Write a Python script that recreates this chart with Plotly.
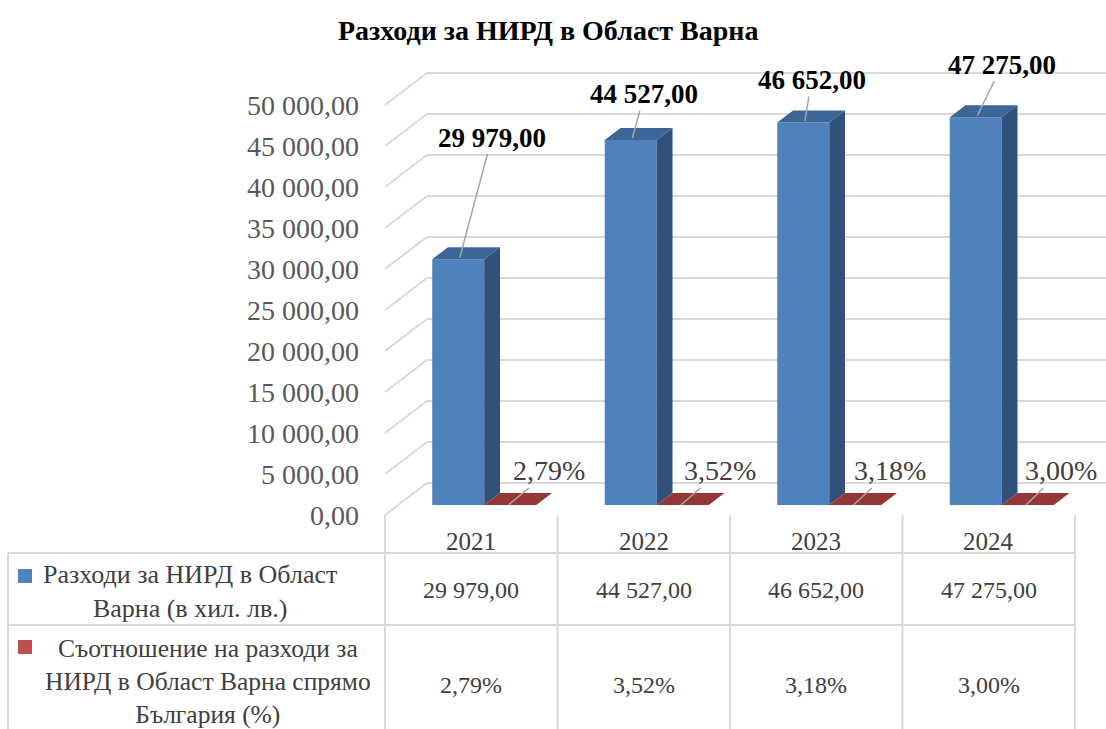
import plotly.graph_objects as go

# ---- data ----
years = ["2021", "2022", "2023", "2024"]
spending = [29979.00, 44527.00, 46652.00, 47275.00]   # хил. лв.
share_pct = [2.79, 3.52, 3.18, 3.00]                   # % от България
y_ticks = [0, 5000, 10000, 15000, 20000, 25000, 30000, 35000, 40000, 45000, 50000]
title_text = "Разходи за НИРД в Област Варна"
series_names = [
    "Разходи за НИРД в Област<br>Варна (в хил. лв.)",
    "Съотношение на разходи за<br>НИРД в Област Варна спрямо<br>България (%)",
]

# ---- styling / geometry ----
W, H = 1106, 729
FONT = "Liberation Serif"
BLUE, BLUE_SIDE, BLUE_TOP = "#4F81BD", "#30517A", "#3C6696"
RED, RED_TOP = "#C0504D", "#953735"
GRID = "#D9D9D9"
TXT = "#404040"

X0_PX, X_SCALE = 471.25, 172.5      # pixel of first category centre, px per category
Y0_PX, Y_SCALE = 505, 0.0082        # pixel of value 0 on the bar plane, px per unit

DX, DY = 42 / X_SCALE, 32 / Y_SCALE  # full depth of the 3D box in data units
FRONT = 10 / 32                      # depth of bar front plane
BAR_DEPTH = 12 / 32
BAR_W = 52 / X_SCALE
BLUE_OFF = -39 / X_SCALE
RED_OFF = BLUE_OFF + BAR_W

x_range = [-X0_PX / X_SCALE, (W - X0_PX) / X_SCALE]
y_range = [-(H - Y0_PX) / Y_SCALE, Y0_PX / Y_SCALE]


def xd(p):
    return (p - X0_PX) / X_SCALE


def py(p):
    return 1 - p / H


def fmt_num(v):
    return f"{v:,.2f}".replace(",", " ").replace(".", ",")


def fmt_pct(v):
    return f"{v:.2f}".replace(".", ",") + "%"


xs = list(range(len(years)))
fig = go.Figure()
shapes = []

# wall gridlines (side wall + back wall), kept below the bars
for t in y_ticks:
    back_y = t + (1 - FRONT) * DY
    shapes.append(dict(type="line", xref="x", yref="y", layer="below",
                       x0=-0.5, y0=t - FRONT * DY, x1=-0.5 + DX, y1=back_y,
                       line=dict(color=GRID, width=2)))
    shapes.append(dict(type="line", xref="x", yref="y", layer="below",
                       x0=-0.5 + DX, y0=back_y, x1=x_range[1], y1=back_y,
                       line=dict(color=GRID, width=2)))


def prism(values, off, front_col, side_col, top_col, name):
    bdx, bdy = BAR_DEPTH * DX, BAR_DEPTH * DY
    fig.add_trace(go.Bar(x=xs, y=values, width=BAR_W, offset=off, marker_color=front_col,
                         marker_line_width=0, name=name, showlegend=False))
    sx, sy, tx, ty = [], [], [], []
    for i, v in zip(xs, values):
        x0, x1 = i + off, i + off + BAR_W
        sx += [x1, x1, x1 + bdx, x1 + bdx, x1, None]
        sy += [0, v, v + bdy, bdy, 0, None]
        tx += [x0, x1, x1 + bdx, x0 + bdx, x0, None]
        ty += [v, v, v + bdy, v + bdy, v, None]
    fig.add_trace(go.Scatter(x=sx, y=sy, fill="toself", fillcolor=side_col, mode="none",
                             hoverinfo="skip", showlegend=False))
    fig.add_trace(go.Scatter(x=tx, y=ty, fill="toself", fillcolor=top_col, mode="none",
                             hoverinfo="skip", showlegend=False))


prism(spending, BLUE_OFF, BLUE, BLUE_SIDE, BLUE_TOP, "spending")
prism(share_pct, RED_OFF, RED, RED_TOP, RED_TOP, "share")

annotations = []

# title
annotations.append(dict(text="<b>" + title_text + "</b>", xref="paper", yref="paper",
                        x=548 / W, y=py(30), xanchor="center", yanchor="middle",
                        showarrow=False, font=dict(family=FONT, size=28, color="black")))

# y tick labels on the front of the side wall
for t in y_ticks:
    annotations.append(dict(text=fmt_num(t), x=-0.5, y=t - FRONT * DY, xanchor="right",
                            yanchor="middle", xshift=-24, showarrow=False,
                            font=dict(family=FONT, size=28, color="#595959")))

# value labels with leader lines
val_ax = [32, 12, 7, 25]
val_ay = [-120, -44, -41, -51]
for i, v, ax, ay in zip(xs, spending, val_ax, val_ay):
    annotations.append(dict(text="<b>" + fmt_num(v) + "</b>", x=i + BLUE_OFF + 0.16, y=v + 200,
                            ax=ax, ay=ay, showarrow=True, arrowhead=0, arrowwidth=1.5,
                            arrowcolor="#A6A6A6",
                            font=dict(family=FONT, size=27, color="black")))

pct_ax = [41, 39, 37, 35]
for i, v, ax in zip(xs, share_pct, pct_ax):
    annotations.append(dict(text=fmt_pct(v), x=i + RED_OFF + 0.14, y=v,
                            ax=ax, ay=-34, showarrow=True, arrowhead=0, arrowwidth=1.5,
                            arrowcolor="#A6A6A6",
                            font=dict(family=FONT, size=28, color=TXT)))

# data table
for b in [-0.5, 0.5, 1.5, 2.5, 3.5]:
    shapes.append(dict(type="line", xref="x", yref="paper", x0=b, x1=b, y0=py(515), y1=py(H),
                       line=dict(color=GRID, width=2)))
for row_y in [553, 625]:
    shapes.append(dict(type="line", xref="x", yref="paper", x0=xd(8), x1=3.5,
                       y0=py(row_y), y1=py(row_y), line=dict(color=GRID, width=2)))
shapes.append(dict(type="line", xref="x", yref="paper", x0=xd(8), x1=xd(8),
                   y0=py(553), y1=py(H), line=dict(color=GRID, width=2)))

for i, yr in zip(xs, years):
    annotations.append(dict(text=yr, x=i, yref="paper", y=py(541), xanchor="center",
                            yanchor="middle", showarrow=False,
                            font=dict(family=FONT, size=25, color=TXT)))
row_centres = [590, 685]
for i, v, p in zip(xs, spending, share_pct):
    annotations.append(dict(text=fmt_num(v), x=i, yref="paper", y=py(row_centres[0]),
                            xanchor="center", yanchor="middle", showarrow=False,
                            font=dict(family=FONT, size=24, color=TXT)))
    annotations.append(dict(text=fmt_pct(p), x=i, yref="paper", y=py(row_centres[1]),
                            xanchor="center", yanchor="middle", showarrow=False,
                            font=dict(family=FONT, size=24, color=TXT)))

# row headers with legend keys
name_x = [190, 208]
name_y = [591, 681]
name_size = [26, 25.5]
key_y = [576, 647]
for name, nx, ny, ns, ky, col in zip(series_names, name_x, name_y, name_size, key_y, [BLUE, RED]):
    annotations.append(dict(text=name, xref="paper", yref="paper", x=nx / W, y=py(ny),
                            xanchor="center", yanchor="middle", showarrow=False,
                            align="center", font=dict(family=FONT, size=ns, color=TXT)))
    shapes.append(dict(type="rect", xref="x", yref="paper", x0=xd(18), x1=xd(32),
                       y0=py(ky + 7), y1=py(ky - 7), fillcolor=col, line=dict(width=0)))

fig.update_layout(
    width=W, height=H,
    margin=dict(l=0, r=0, t=0, b=0),
    plot_bgcolor="white", paper_bgcolor="white",
    barmode="overlay",
    showlegend=False,
    xaxis=dict(range=x_range, visible=False, fixedrange=True),
    yaxis=dict(range=y_range, visible=False, fixedrange=True),
    annotations=annotations,
    shapes=shapes,
)

fig.write_html("out.html", config={"displayModeBar": False},
               post_script="document.body.style.margin='0';")
